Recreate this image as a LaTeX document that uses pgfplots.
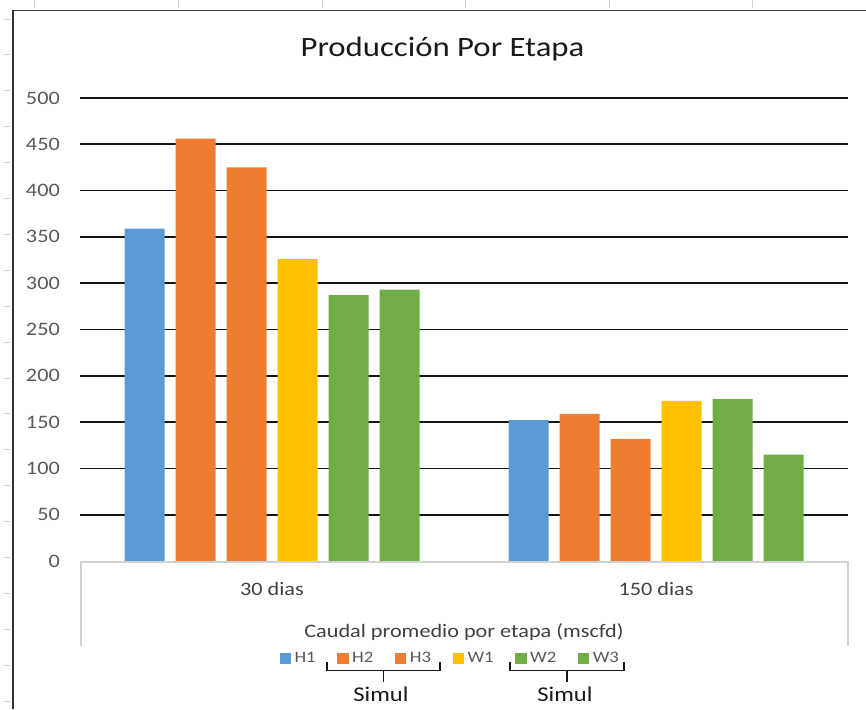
\documentclass[border=0pt]{standalone}
\usepackage{pgfplots}
\usepackage{pgfplotstable}
\pgfplotsset{compat=1.18}
\usepackage{fontspec}
\setmainfont{Carlito}[FakeStretch=1.17]
\definecolor{cH}{HTML}{5B9BD5}
\definecolor{cO}{HTML}{ED7D31}
\definecolor{cY}{HTML}{FFC000}
\definecolor{cG}{HTML}{70AD47}
\definecolor{txt}{HTML}{595959}
\definecolor{dark}{HTML}{404040}
\pgfplotsset{sq legend/.style={legend image code/.code={\fill[##1] (0pt,-5.5pt) rectangle (11.5pt,5.5pt);}}}
\pgfplotstableread{
x H1 H2 H3 W1 W2 W3
0 359 456 425 326 287 293
1 152 159 132 173 175 115
}\datatable
\begin{document}
\begin{tikzpicture}
\useasboundingbox (0,0) rectangle (866pt,709pt);
% spreadsheet cell lines outside the chart
\foreach \k in {0,...,19} {\draw[black!18, line width=0.8pt] (4pt,{(690-35.9*\k)*1pt}) -- (10pt,{(690-35.9*\k)*1pt});}
\foreach \k in {0,...,5} {\draw[black!18, line width=0.8pt] ({(34.8+143.6*\k)*1pt},709pt) -- ({(34.8+143.6*\k)*1pt},701pt);}
% chart border
\draw[black!80, line width=1.8pt] (12.7pt,0pt) -- (12.7pt,698.5pt) -- (866pt,698.5pt);
\node[anchor=base, font=\fontsize{28}{30}\selectfont, text=black!90, inner sep=0pt] at (442.5pt,652.3pt) {Producción Por Etapa};
\begin{axis}[
  at={(80pt,148pt)}, anchor=south west,
  scale only axis, width=768pt, height=463pt,
  xmin=-0.5, xmax=1.5, ymin=0, ymax=500,
  ybar=11pt, bar width=40pt,
  axis line style={draw=none},
  major tick length=0pt, tick style={draw=none},
  xtick={0,1}, xticklabels={30 dias,150 dias},
  ytick={50,100,...,500},
  extra y ticks={0}, extra y tick style={grid=none},
  ymajorgrids=true,
  major grid style={draw=black!92, line width=1.6pt},
  /pgf/number format/assume math mode=true,
  yticklabel style={anchor=east, inner sep=0pt, xshift=-20pt, text=txt, font=\fontsize{19}{22}\selectfont},
  xticklabel style={anchor=base, inner sep=0pt, yshift=-34pt, text=dark, font=\fontsize{19}{22}\selectfont},
  xlabel={Caudal promedio por etapa (mscfd)},
  xlabel style={at={(axis description cs:0.5,0)}, anchor=base, inner sep=0pt, yshift=-76pt, text=dark, font=\fontsize{19}{22}\selectfont},
  legend columns=6,
  legend style={draw=none, fill=none, at={(axis description cs:0.5,0)}, anchor=center, yshift=-97pt, xshift=-13pt,
    font=\fontsize{16}{18}\selectfont, text=txt,
    /tikz/every even column/.append style={column sep=18pt},
    nodes={inner xsep=3.5pt, inner ysep=2pt}},
]
\addplot[fill=cH, draw=none, sq legend] table[x=x, y=H1] {\datatable};
\addplot[fill=cO, draw=none, sq legend] table[x=x, y=H2] {\datatable};
\addplot[fill=cO, draw=none, sq legend] table[x=x, y=H3] {\datatable};
\addplot[fill=cY, draw=none, sq legend] table[x=x, y=W1] {\datatable};
\addplot[fill=cG, draw=none, sq legend] table[x=x, y=W2] {\datatable};
\addplot[fill=cG, draw=none, sq legend] table[x=x, y=W3] {\datatable};
\legend{H1,H2,H3,W1,W2,W3}
\end{axis}
% category box
\draw[black!18, line width=1.2pt] (81pt,63pt) -- (81pt,147pt) -- (848pt,147pt) -- (848pt,63pt);
% braces
\draw[black!90, line width=1.3pt] (327pt,47pt) -- (327pt,38.5pt) -- (440pt,38.5pt) -- (440pt,47pt);
\draw[black!90, line width=1.3pt] (383.5pt,38.5pt) -- (383.5pt,27pt);
\draw[black!90, line width=1.3pt] (510pt,47pt) -- (510pt,38.5pt) -- (624pt,38.5pt) -- (624pt,47pt);
\draw[black!90, line width=1.3pt] (567pt,38.5pt) -- (567pt,27pt);
\node[anchor=base, inner sep=0pt, font=\fontsize{21}{24}\selectfont, text=black!90] at (381pt,7.3pt) {Simul};
\node[anchor=base, inner sep=0pt, font=\fontsize{21}{24}\selectfont, text=black!90] at (565pt,7.3pt) {Simul};
\end{tikzpicture}
\end{document}
